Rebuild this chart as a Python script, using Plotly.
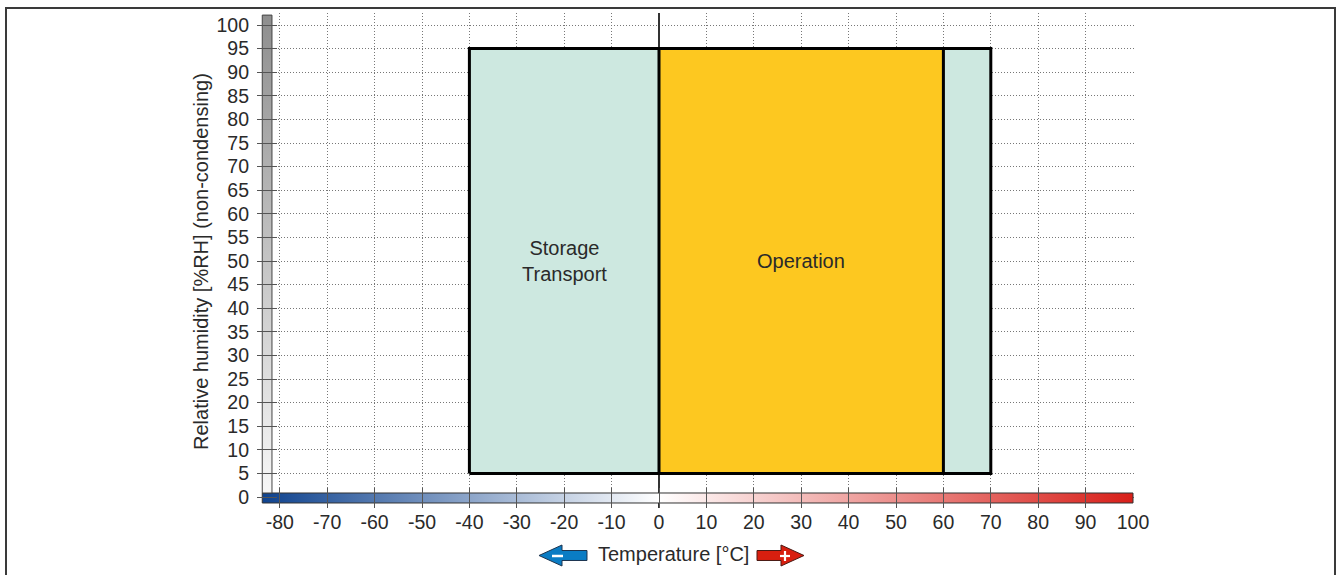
import plotly.graph_objects as go

# ---------------- data ----------------
temp_ticks = [-80, -70, -60, -50, -40, -30, -20, -10, 0, 10, 20, 30, 40, 50, 60, 70, 80, 90, 100]
hum_ticks = [0, 5, 10, 15, 20, 25, 30, 35, 40, 45, 50, 55, 60, 65, 70, 75, 80, 85, 90, 95, 100]

storage_temp = [-40, 70]      # °C
operation_temp = [0, 60]      # °C
humidity_range = [5, 95]      # %RH

storage_label = "Storage<br>Transport"
operation_label = "Operation"

temp_scale = [-83.7, 100]     # extent of temperature colour scale
hum_scale = [0.85, 102.1]     # extent of humidity grey scale
# --------------------------------------

W, H = 1338, 575
ML, MR, MT, MB = 257, 204, 13, 67
PW, PH = W - ML - MR, H - MT - MB
PB = H - MB

def px(x):
    return (x - ML) / PW

def py(y):
    return (PB - y) / PH

FONT = "Liberation Sans, Arial, sans-serif"
TXT = "#2a2a2a"
TFS = 20      # text size
KFS = 19.5    # tick label size

fig = go.Figure()

# temperature colour bar
x0, x1 = temp_scale
cb_y0, cb_y1 = -1.27, hum_scale[0]
white_pos = (0 - x0) / (x1 - x0)
fig.add_trace(go.Scatter(
    x=[x0, x1, x1, x0, x0], y=[cb_y0, cb_y0, cb_y1, cb_y1, cb_y0],
    mode="lines", fill="toself",
    fillgradient=dict(type="horizontal",
                      colorscale=[[0, "#0f438f"], [white_pos, "#ffffff"], [1, "#d81f19"]]),
    line=dict(color="#333333", width=1), hoverinfo="skip", showlegend=False))

# humidity grey bar
gx0, gx1 = temp_scale[0], -81.65
fig.add_trace(go.Scatter(
    x=[gx0, gx1, gx1, gx0, gx0], y=[hum_scale[0], hum_scale[0], hum_scale[1], hum_scale[1], hum_scale[0]],
    mode="lines", fill="toself",
    fillgradient=dict(type="vertical", colorscale=[[0, "#f7f7f7"], [1, "#8e8e8e"]]),
    line=dict(color="#444444", width=1), hoverinfo="skip", showlegend=False))

# storage / transport area
sx0, sx1 = storage_temp
hy0, hy1 = humidity_range
fig.add_trace(go.Scatter(
    x=[sx0, sx1, sx1, sx0, sx0], y=[hy0, hy0, hy1, hy1, hy0],
    mode="lines", fill="toself", fillcolor="#cde8e0",
    line=dict(color="#000000", width=3), hoverinfo="skip", showlegend=False))

# operation area
ox0, ox1 = operation_temp
fig.add_trace(go.Scatter(
    x=[ox0, ox1, ox1, ox0, ox0], y=[hy0, hy0, hy1, hy1, hy0],
    mode="lines", fill="toself", fillcolor="#fdc820",
    line=dict(color="#000000", width=3), hoverinfo="skip", showlegend=False))

fig.add_annotation(x=(sx0 + ox0) / 2, y=(hy0 + hy1) / 2, text=storage_label, showarrow=False,
                   font=dict(family=FONT, size=TFS, color=TXT))
fig.add_annotation(x=(ox0 + ox1) / 2, y=(hy0 + hy1) / 2, text=operation_label, showarrow=False,
                   font=dict(family=FONT, size=TFS, color=TXT))

# axis titles
fig.add_annotation(xref="paper", yref="paper", x=px(201), y=py(262),
                   xanchor="center", yanchor="middle",
                   text="Relative humidity [%RH] (non-condensing)", textangle=-90,
                   showarrow=False, font=dict(family=FONT, size=TFS, color=TXT))
fig.add_annotation(xref="paper", yref="paper", x=px(673), y=py(554),
                   xanchor="center", yanchor="middle",
                   text="Temperature [°C]", showarrow=False,
                   font=dict(family=FONT, size=TFS, color=TXT))

def path(points):
    return "M " + " L ".join(f"{px(a):.5f},{py(b):.5f}" for a, b in points) + " Z"

# blue arrow (cold)
blue = [(539, 555.5), (562, 545), (562, 550.5), (587, 550.5), (587, 560.5), (562, 560.5), (562, 566)]
fig.add_shape(type="path", xref="paper", yref="paper", path=path(blue),
              fillcolor="#0a7cc4", line=dict(color="#1d3550", width=1))
fig.add_shape(type="line", xref="paper", yref="paper", x0=px(552), x1=px(563), y0=py(556), y1=py(556),
              line=dict(color="white", width=2.5))
# red arrow (hot)
red = [(804, 555.5), (781, 545), (781, 550.5), (757, 550.5), (757, 560.5), (781, 560.5), (781, 566)]
fig.add_shape(type="path", xref="paper", yref="paper", path=path(red),
              fillcolor="#d81f0f", line=dict(color="#4a1a14", width=1))
fig.add_shape(type="line", xref="paper", yref="paper", x0=px(780), x1=px(790), y0=py(556), y1=py(556),
              line=dict(color="white", width=2.2))
fig.add_shape(type="line", xref="paper", yref="paper", x0=px(785), x1=px(785), y0=py(551), y1=py(561),
              line=dict(color="white", width=2.2))

# outer frame (left, top, right)
fig.add_shape(type="path", xref="paper", yref="paper",
              path=f"M {px(6):.5f},{py(585):.5f} L {px(6):.5f},{py(8):.5f} L {px(1335):.5f},{py(8):.5f} L {px(1335):.5f},{py(585):.5f}",
              line=dict(color="#3a3a3a", width=2))

xmin = -(659 - ML) / 4.74
xmax = (ML + PW - 659) / 4.74
ymin = -(PB - 497) / 4.72
ymax = (497 - MT) / 4.72

GRID_DASH = "1px,2px"

fig.update_layout(
    width=W, height=H,
    margin=dict(l=ML, r=MR, t=MT, b=MB, pad=0),
    paper_bgcolor="white", plot_bgcolor="white",
    showlegend=False, hovermode=False,
    font=dict(family=FONT, color=TXT),
    xaxis=dict(range=[xmin, xmax], tickmode="array", tickvals=temp_ticks,
               ticktext=[str(t) for t in temp_ticks],
               ticks="inside", ticklen=20, tickwidth=1, tickcolor="#555555",
               tickfont=dict(family=FONT, size=KFS, color=TXT), ticklabelstandoff=0,
               showgrid=True, gridcolor="#777777", griddash=GRID_DASH, gridwidth=1,
               zeroline=True, zerolinecolor="#333333", zerolinewidth=1.5,
               showline=False, fixedrange=True),
    yaxis=dict(range=[ymin, ymax], tickmode="array", tickvals=hum_ticks,
               ticktext=[str(t) for t in hum_ticks],
               ticks="inside", ticklen=20, tickwidth=1, tickcolor="#555555",
               tickfont=dict(family=FONT, size=KFS, color=TXT), ticklabelstandoff=7,
               showgrid=True, gridcolor="#777777", griddash=GRID_DASH, gridwidth=1,
               zeroline=False, showline=False, fixedrange=True),
)

fig.write_html("out.html", config={"displayModeBar": False, "staticPlot": True},
               post_script="document.body.style.margin='0';document.body.style.overflow='hidden';")
